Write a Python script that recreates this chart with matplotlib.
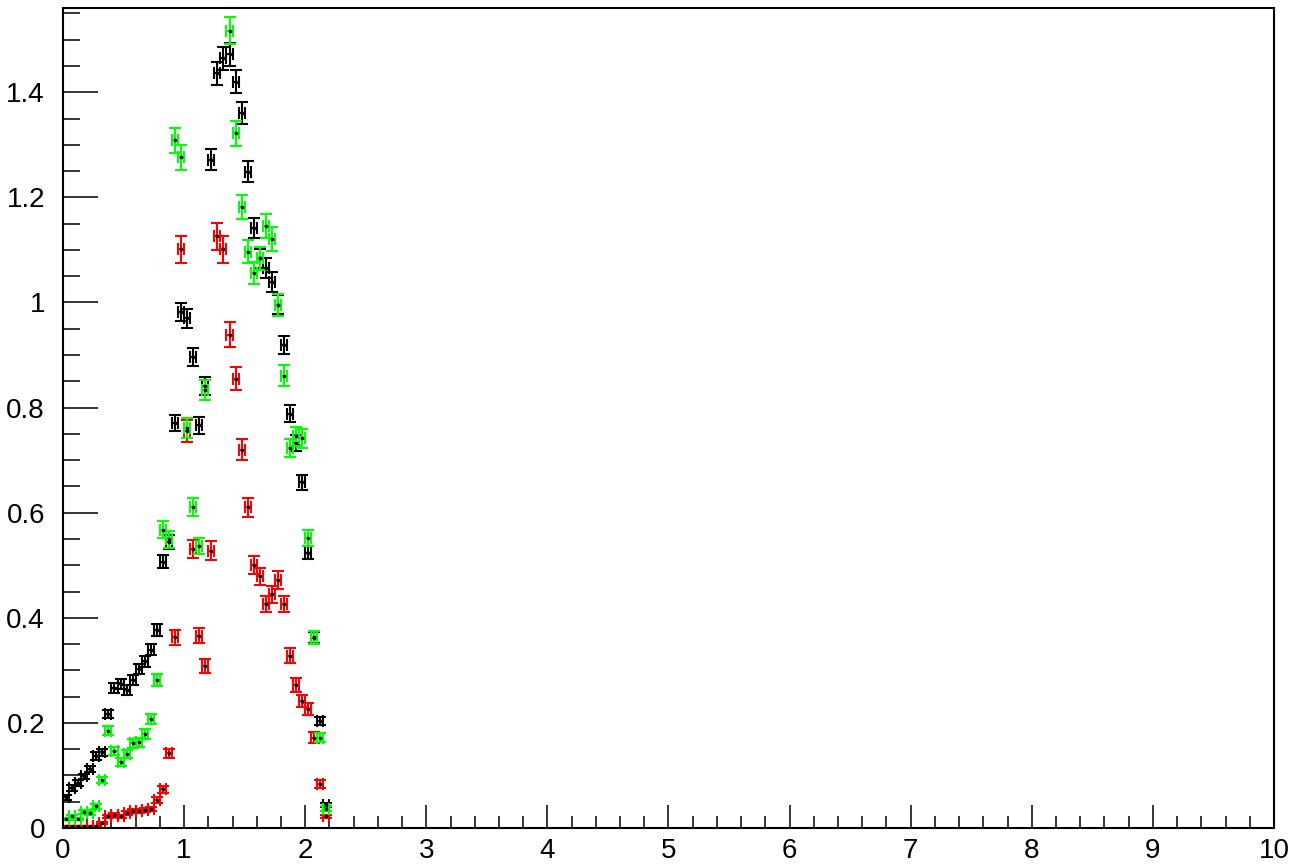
import numpy as np
import matplotlib
matplotlib.use('Agg')
import matplotlib.pyplot as plt
from matplotlib.ticker import MultipleLocator, FuncFormatter

plt.rcParams['font.family'] = ['Liberation Sans', 'DejaVu Sans']

# bin centres, width 0.05 from 0 to 2.2
bin_centers = [0.025, 0.075, 0.125, 0.175, 0.225, 0.275, 0.325, 0.375, 0.425, 0.475,
               0.525, 0.575, 0.625, 0.675, 0.725, 0.775, 0.825, 0.875, 0.925, 0.975,
               1.025, 1.075, 1.125, 1.175, 1.225, 1.275, 1.325, 1.375, 1.425, 1.475,
               1.525, 1.575, 1.625, 1.675, 1.725, 1.775, 1.825, 1.875, 1.925, 1.975,
               2.025, 2.075, 2.125, 2.175]
half_width = 0.025

black_vals = [0.058, 0.076, 0.086, 0.098, 0.112, 0.137, 0.144, 0.217, 0.266, 0.274,
              0.263, 0.282, 0.302, 0.317, 0.339, 0.377, 0.507, 0.545, 0.771, 0.982,
              0.970, 0.896, 0.766, 0.841, 1.272, 1.436, 1.465, 1.472, 1.420, 1.360,
              1.249, 1.141, 1.084, 1.066, 1.039, 0.996, 0.919, 0.788, 0.733, 0.658,
              0.524, 0.362, 0.204, 0.043]
black_errs = [0.0043, 0.0050, 0.0053, 0.0056, 0.0060, 0.0067, 0.0068, 0.0084, 0.0093, 0.0094,
              0.0092, 0.0096, 0.0099, 0.0101, 0.0105, 0.0110, 0.0128, 0.0133, 0.0158, 0.0178,
              0.0177, 0.0170, 0.0158, 0.0165, 0.0203, 0.0216, 0.0218, 0.0218, 0.0215, 0.0210,
              0.0201, 0.0192, 0.0187, 0.0186, 0.0183, 0.0180, 0.0173, 0.0160, 0.0154, 0.0146,
              0.0130, 0.0108, 0.0081, 0.0037]

green_vals = [0.017, 0.022, 0.017, 0.031, 0.028, 0.041, 0.091, 0.185, 0.147, 0.125,
              0.141, 0.161, 0.163, 0.179, 0.207, 0.281, 0.568, 0.549, 1.309, 1.276,
              0.761, 0.611, 0.536, 0.834, np.nan, np.nan, np.nan, 1.517, 1.322, 1.182,
              1.097, 1.056, 1.084, 1.145, 1.121, 0.996, 0.861, 0.723, 0.745, 0.742,
              0.552, 0.363, 0.172, 0.037]
green_errs = [0.0027, 0.0031, 0.0027, 0.0037, 0.0035, 0.0042, 0.0063, 0.0090, 0.0080, 0.0074,
              0.0079, 0.0084, 0.0085, 0.0089, 0.0096, 0.0111, 0.0158, 0.0156, 0.0240, 0.0237,
              0.0183, 0.0164, 0.0154, 0.0192, np.nan, np.nan, np.nan, 0.0259, 0.0241, 0.0228,
              0.0220, 0.0216, 0.0219, 0.0225, 0.0222, 0.0210, 0.0195, 0.0179, 0.0181, 0.0181,
              0.0156, 0.0126, 0.0087, 0.0040]

red_vals = [0.003, 0.003, 0.003, 0.003, 0.003, 0.003, 0.009, 0.022, 0.025, 0.022,
            0.029, 0.032, 0.032, 0.034, 0.036, 0.053, 0.074, 0.142, 0.363, 1.101,
            0.755, 0.531, 0.366, 0.309, 0.528, 1.126, 1.101, 0.939, 0.855, 0.720,
            0.610, 0.500, 0.479, 0.426, 0.445, 0.472, 0.426, 0.328, 0.272, 0.242,
            0.227, 0.172, 0.084, 0.022]
red_errs = [0.0013, 0.0013, 0.0013, 0.0013, 0.0013, 0.0013, 0.0023, 0.0036, 0.0038, 0.0036,
            0.0041, 0.0043, 0.0043, 0.0044, 0.0046, 0.0055, 0.0065, 0.0090, 0.0145, 0.0252,
            0.0209, 0.0175, 0.0145, 0.0133, 0.0174, 0.0255, 0.0252, 0.0233, 0.0222, 0.0204,
            0.0187, 0.0170, 0.0166, 0.0157, 0.0160, 0.0165, 0.0157, 0.0137, 0.0125, 0.0118,
            0.0114, 0.0100, 0.0070, 0.0036]

series = [
    (black_vals, black_errs, '#000000'),
    (red_vals, red_errs, '#ff0000'),
    (green_vals, green_errs, '#00ff00'),
]

fig = plt.figure(figsize=(12.94, 8.65), dpi=100)
ax = fig.add_axes([0.0487, 0.0428, 0.9358, 0.948])

for vals, errs, col in series:
    ax.errorbar(bin_centers, vals, yerr=errs, xerr=half_width, fmt='none',
                ecolor=col, elinewidth=1.5, capsize=4.5, capthick=1.5, zorder=2)
    ax.plot(bin_centers, vals, 's', color='black', markersize=1.6, zorder=3)

ax.set_xlim(0, 10)
ax.set_ylim(0, 1.5605)

ax.xaxis.set_major_locator(MultipleLocator(1))
ax.xaxis.set_minor_locator(MultipleLocator(0.2))
ax.yaxis.set_major_locator(MultipleLocator(0.2))
ax.yaxis.set_minor_locator(MultipleLocator(0.05))
ax.yaxis.set_major_formatter(FuncFormatter(lambda v, p: f'{v:g}'))
ax.xaxis.set_major_formatter(FuncFormatter(lambda v, p: f'{v:g}'))

ax.tick_params(axis='both', which='both', direction='in', top=False, right=False,
               width=1.1, labelsize=20, colors='black')
ax.tick_params(axis='y', which='major', length=25, pad=13)
ax.tick_params(axis='y', which='minor', length=12.5)
ax.tick_params(axis='x', which='major', length=16.5, pad=7)
ax.tick_params(axis='x', which='minor', length=8.6)

for sp in ax.spines.values():
    sp.set_linewidth(1.5)
    sp.set_color('black')

fig.savefig('out.png', dpi=100)
